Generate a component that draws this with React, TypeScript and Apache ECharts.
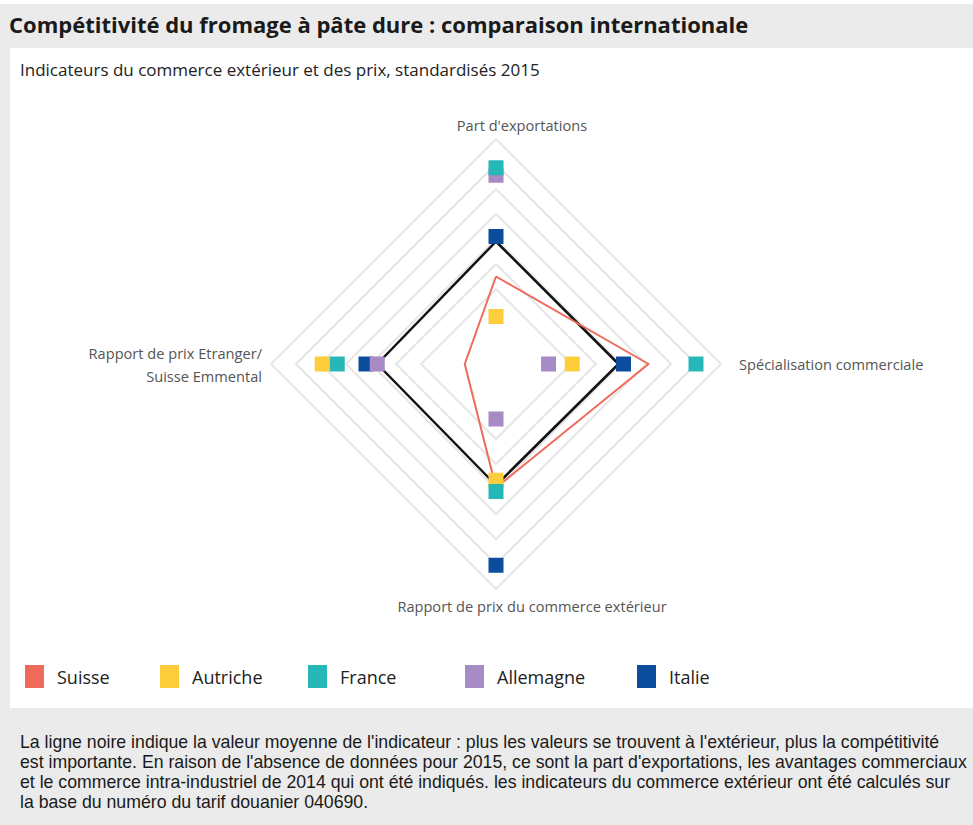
import React, { useEffect, useRef } from "react";
import * as echarts from "echarts";

const TITLE = "Compétitivité du fromage à pâte dure : comparaison internationale";
const SUBTITLE = "Indicateurs du commerce extérieur et des prix, standardisés 2015";

// Indicators in ECharts order (top, left, bottom, right)
const indicatorNames = [
  "Part d'exportations",
  "Rapport de prix Etranger/\nSuisse Emmental",
  "Rapport de prix du commerce extérieur",
  "Spécialisation commerciale",
];
const axisMax = 9;

const countries = ["Suisse", "Autriche", "France", "Allemagne", "Italie"];
const colors: Record<string, string> = {
  Suisse: "#ef6a5b",
  Autriche: "#fdcd3c",
  France: "#26b7b9",
  Allemagne: "#a68bc4",
  Italie: "#0b4c9d",
};

const suisse = [3.5, 1.25, 4.95, 6.1];
const autriche = [1.9, 6.95, 4.65, 3.05];
const france = [7.85, 6.35, 5.1, 8.0];
const allemagne = [7.55, 4.75, 2.2, 2.1];
const italie = [5.1, 5.2, 8.05, 5.1];
const moyenne = [4.9, 4.75, 4.85, 4.9];

const footerLines = [
  "La ligne noire indique la valeur moyenne de l'indicateur : plus les valeurs se trouvent à l'extérieur, plus la compétitivité",
  "est importante. En raison de l'absence de données pour 2015, ce sont la part d'exportations, les avantages commerciaux",
  "et le commerce intra-industriel de 2014 qui ont été indiqués. les indicateurs du commerce extérieur ont été calculés sur",
  "la base du numéro du tarif douanier 040690.",
];

const legendLefts = [25, 160, 308, 465, 637];

export default function App() {
  const ref = useRef<HTMLDivElement>(null);
  useEffect(() => {
    if (!ref.current) return;
    const chart = echarts.init(ref.current, undefined, { renderer: "svg" });
    const font = "'Open Sans', Roboto, sans-serif";
    const footFont = "'Liberation Sans', Arial, sans-serif";
    const nameStyle = { color: "#555", fontFamily: font, fontSize: 14.6 };

    const markerSeries = (name: string, values: number[]) => ({
      type: "radar",
      name,
      symbol: "rect",
      symbolSize: 15,
      itemStyle: { color: colors[name] },
      lineStyle: { width: 0, opacity: 0 },
      data: [{ value: values, name }],
    });

    const option: any = {
      animation: false,
      backgroundColor: "#ebebeb",
      graphic: [
        { type: "rect", shape: { x: 0, y: 0, width: 973, height: 4 }, style: { fill: "#ffffff" }, z: -10 },
        { type: "rect", shape: { x: 10, y: 48, width: 963, height: 660 }, style: { fill: "#ffffff" }, z: -10 },
        ...footerLines.map((line, i) => ({
          type: "text",
          x: 20,
          y: 742 + i * 20,
          style: {
            text: line,
            fill: "#1a1a1a",
            font: `17.7px ${footFont}`,
            verticalAlign: "middle",
          },
        })),
      ],
      title: [
        {
          text: TITLE,
          left: 9,
          top: 13,
          padding: 0,
          textStyle: { fontFamily: font, fontSize: 22, fontWeight: "bold", color: "#1a1a1a" },
        },
        {
          text: SUBTITLE,
          left: 20,
          top: 61,
          padding: 0,
          textStyle: { fontFamily: font, fontSize: 17, fontWeight: "normal", color: "#222" },
        },
      ],
      legend: countries.map((c, i) => ({
        data: [c],
        left: legendLefts[i],
        top: 665,
        padding: 0,
        icon: "rect",
        itemWidth: 19,
        itemHeight: 23,
        itemStyle: { borderWidth: 0 },
        textStyle: { fontFamily: font, fontSize: 18, color: "#222", padding: [0, 0, 0, 8] },
        selectedMode: false,
      })),
      radar: {
        center: [496, 364],
        radius: 225,
        startAngle: 90,
        splitNumber: 9,
        shape: "polygon",
        nameGap: 6,
        indicator: indicatorNames.map((n) => ({ name: n, min: 0, max: axisMax })),
        axisName: {
          ...nameStyle,
          lineHeight: 23,
          formatter: (name: string) => {
            if (name === indicatorNames[0]) return `{t|${name}}`;
            if (name === indicatorNames[2]) return `{b|${name}}`;
            if (name === indicatorNames[3]) return `{r|${name}}`;
            return name
              .split("\n")
              .map((s) => `{l|${s}}`)
              .join("\n");
          },
          rich: {
            t: { ...nameStyle, lineHeight: 16, padding: [0, 0, 0, 52] },
            b: { ...nameStyle, lineHeight: 16, padding: [5, 0, 0, 72] },
            r: { ...nameStyle, padding: [0, 0, 0, 12] },
            l: { ...nameStyle, lineHeight: 23, padding: [0, 3, 0, 0] },
          },
        },
        axisLine: { show: false },
        axisTick: { show: false },
        axisLabel: { show: false },
        splitArea: { show: false },
        splitLine: {
          show: true,
          lineStyle: {
            width: 2,
            color: [
              "rgba(0,0,0,0)",
              "rgba(0,0,0,0)",
              "rgba(0,0,0,0)",
              "#e6e6e6",
              "#e6e6e6",
              "#e6e6e6",
              "#e6e6e6",
              "#e6e6e6",
              "#e6e6e6",
              "#e6e6e6",
            ],
          },
        },
      },
      series: [
        markerSeries("Italie", italie),
        markerSeries("Autriche", autriche),
        markerSeries("Allemagne", allemagne),
        markerSeries("France", france),
        {
          type: "radar",
          name: "Moyenne",
          symbol: "none",
          lineStyle: { color: "#111", width: 2.5 },
          itemStyle: { color: "#111" },
          data: [{ value: moyenne, name: "Moyenne" }],
        },
        {
          type: "radar",
          name: "Suisse",
          symbol: "none",
          lineStyle: { color: colors.Suisse, width: 2 },
          itemStyle: { color: colors.Suisse },
          data: [{ value: suisse, name: "Suisse" }],
        },
      ],
    };
    chart.setOption(option);
    return () => chart.dispose();
  }, []);
  return (
    <div
      ref={ref}
      style={{ position: "fixed", left: 0, top: 0, width: 973, height: 825 }}
    />
  );
}
